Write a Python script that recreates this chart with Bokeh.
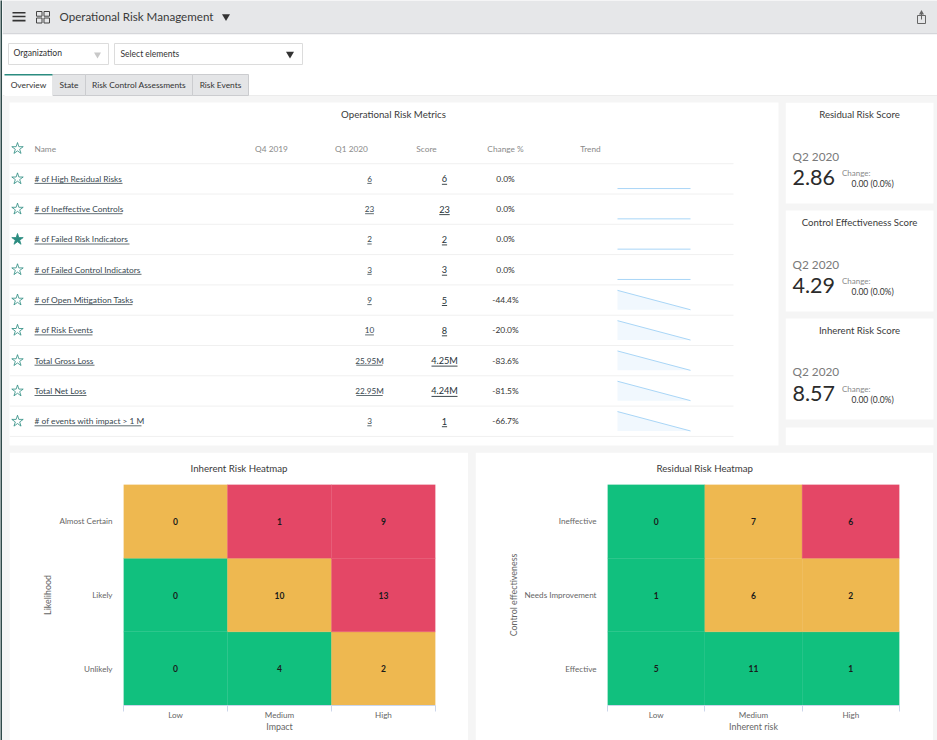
from bokeh.core.properties import value
from bokeh.embed import file_html
from bokeh.layouts import column, row
from bokeh.models import ColumnDataSource, FixedTicker, LinearAxis, Range1d
from bokeh.plotting import figure
from bokeh.resources import INLINE

# ---------- data ----------
metric_names = ["# of High Residual Risks", "# of Ineffective Controls", "# of Failed Risk Indicators",
                "# of Failed Control Indicators", "# of Open Mitigation Tasks", "# of Risk Events",
                "Total Gross Loss", "Total Net Loss", "# of events with impact > 1 M"]
q1_labels = ["6", "23", "2", "3", "9", "10", "25.95M", "22.95M", "3"]
score_labels = ["6", "23", "2", "3", "5", "8", "4.25M", "4.24M", "1"]
change_labels = ["0.0%", "0.0%", "0.0%", "0.0%", "-44.4%", "-20.0%", "-83.6%", "-81.5%", "-66.7%"]
trend_start = [6, 23, 2, 3, 9, 10, 25.95, 22.95, 3]
trend_end = [6, 23, 2, 3, 5, 8, 4.25, 4.24, 1]
favourite = [False, False, True, False, False, False, False, False, False]
column_headers = ["Q4 2019", "Q1 2020", "Score", "Change %", "Trend"]

kpi_titles = ["Residual Risk Score", "Control Effectiveness Score", "Inherent Risk Score"]
kpi_values = ["2.86", "4.29", "8.57"]
kpi_period = "Q2 2020"
kpi_change = "0.00 (0.0%)"

tab_labels = ["Overview", "State", "Risk Control Assessments", "Risk Events"]

impact_levels = ["Low", "Medium", "High"]
likelihood_levels = ["Unlikely", "Likely", "Almost Certain"]
inherent_counts = [[0, 4, 2], [0, 10, 13], [0, 1, 9]]
inherent_risk = [["low", "low", "mid"], ["low", "mid", "high"], ["mid", "high", "high"]]

inherent_levels = ["Low", "Medium", "High"]
control_levels = ["Effective", "Needs Improvement", "Ineffective"]
residual_counts = [[5, 11, 1], [1, 6, 2], [0, 7, 6]]
residual_risk = [["low", "low", "low"], ["low", "mid", "mid"], ["low", "mid", "high"]]

# ---------- styles ----------
FONT = "Lato"
BG = "#f5f5f5"
INK = "#333333"
MUTED = "#8a8a8a"
TEAL = "#2b8c80"
RISK_COLORS = {"low": "#11c07e", "mid": "#eeb850", "high": "#e44766"}
name_underline_px = [88, 88, 95, 107, 98, 58, 60, 52, 107]


def canvas(x0, x1, y0, y1, w, h, **kw):
    p = figure(x_range=Range1d(x0, x1), y_range=Range1d(y1, y0), width=w, height=h,
               output_backend="svg", toolbar_location=None, x_axis_location=None,
               y_axis_location=None, min_border=0, outline_line_color=None, **kw)
    p.grid.visible = False
    return p


def put(p, x, y, s, size=9.5, color=INK, align="left", style="normal", angle=0):
    p.text(x=[x], y=[y], text=[s], text_font=value(FONT), text_font_size=f"{size}px", text_color=color,
           text_align=align, text_baseline="middle", text_font_style=style, angle=angle)


# ---------- left edge strip ----------
strip = canvas(0, 2, 0, 740, 2, 740)
strip.background_fill_color = "#2f4a4a"
strip.border_fill_color = "#2f4a4a"

# ---------- header, filters, tabs ----------
top = canvas(2, 937, 0, 96, 935, 96)
top.quad(left=[2], right=[937], top=[0], bottom=[32.5], fill_color="#e6e7e9", line_color=None)
top.quad(left=[2], right=[937], top=[32.5], bottom=[33.7], fill_color="#d5d6da", line_color=None)
top.quad(left=[12, 12, 12], right=[25, 25, 25], top=[11.5, 15.2, 19.3], bottom=[13.1, 16.8, 20.9],
         fill_color="#333333", line_color=None)
top.quad(left=[36, 43.5, 36, 43.5], right=[41.5, 49, 41.5, 49], top=[11, 11, 17.5, 17.5],
         bottom=[15.7, 15.7, 22.5, 22.5], fill_color=None, line_color="#444444", line_width=1)
put(top, 59, 15.6, "Operational Risk Management", size=11.6, color="#3a3a3a")
top.scatter(x=[225.5], y=[16], marker="inverted_triangle", size=8, fill_color="#333333", line_color=None)
top.quad(left=[917], right=[925], top=[15], bottom=[23], fill_color=None, line_color="#666666", line_width=1)
top.segment(x0=[921], x1=[921], y0=[19], y1=[11.5], line_color="#666666", line_width=1)
top.scatter(x=[921], y=[12.5], marker="triangle", size=5, fill_color="#666666", line_color=None)

top.quad(left=[8, 114], right=[108, 302], top=[43, 43], bottom=[64, 64], fill_color="white",
         line_color="#dcdcdc", line_width=1)
put(top, 13, 52.8, "Organization", size=8.6)
put(top, 120, 53.3, "Select elements", size=8.5)
top.scatter(x=[97], y=[54], marker="inverted_triangle", size=7, fill_color="#c8c8c8", line_color=None)
top.scatter(x=[289.5], y=[53.5], marker="inverted_triangle", size=8, fill_color="#333333", line_color=None)

tab_left = [4, 52, 85, 192]
tab_right = [52, 85, 192, 248]
top.quad(left=[2], right=[937], top=[94.8], bottom=[96], fill_color="#e6e6e6", line_color=None)
top.quad(left=tab_left[1:], right=tab_right[1:], top=[74] * 3, bottom=[95] * 3, fill_color="#e4e5e7",
         line_color="#cbcccf", line_width=1)
top.quad(left=[4], right=[52], top=[74], bottom=[96], fill_color="white", line_color=None)
top.quad(left=[4], right=[52], top=[73.6], bottom=[75], fill_color=TEAL, line_color=None)
for lbl, l, r in zip(tab_labels, tab_left, tab_right):
    put(top, (l + r) / 2, 84.8, lbl, size=8.4, align="center")

# ---------- metrics table ----------
rows = list(range(len(metric_names)))
tbl = canvas(9, 778, -2.52, 8.80, 783, 356)
tbl.min_border_left, tbl.min_border_right, tbl.min_border_top, tbl.min_border_bottom = 7, 7, 6, 7
tbl.background_fill_color = "white"
tbl.border_fill_color = BG
put(tbl, 393, -2.145, "Operational Risk Metrics", size=9.7, align="center", color="#3a3a3a")
sep = [r + 0.5 for r in rows] + [-0.5]
tbl.segment(x0=[9] * len(sep), x1=[733] * len(sep), y0=sep, y1=sep, line_color="#f0f0f0", line_width=1)

put(tbl, 34, -1, "Name", size=8.3, color=MUTED)
for head, cx in zip(column_headers, [271, 351, 426, 505, 590]):
    put(tbl, cx, -1, head, size=8.3, color=MUTED, align="center")

star_rows = [-1] + rows
star_fill = ["white"] + [TEAL if f else "white" for f in favourite]
tbl.scatter(x=[17] * len(star_rows), y=star_rows, marker="star", size=12, fill_color=star_fill,
            line_color=TEAL, line_width=0.8)

tsrc = ColumnDataSource(dict(r=rows, name=metric_names, q1=q1_labels, score=score_labels,
                             change=change_labels, xn=[34] * 9, xq=[369] * 9, xs=[444] * 9, xc=[505] * 9))
common = dict(source=tsrc, y="r", text_font=value(FONT), text_baseline="middle")
tbl.text(x="xn", text="name", text_font_size="8.4px", text_color="#37474f", text_align="left", **common)
tbl.text(x="xq", text="q1", text_font_size="8.2px", text_color="#37474f", text_align="center", **common)
tbl.text(x="xs", text="score", text_font_size="9.2px", text_color="#263238", text_align="center", **common)
tbl.text(x="xc", text="change", text_font_size="8.4px", text_color=INK, text_align="center", **common)

tbl.segment(x0=[34] * 9, x1=[34 + w for w in name_underline_px], y0=[r + 0.15 for r in rows],
            y1=[r + 0.15 for r in rows], line_color="#37474f", line_width=0.8)
q_half = [len(s) * 2.2 for s in q1_labels]
s_half = [len(s) * 2.6 for s in score_labels]
tbl.segment(x0=[369 - h for h in q_half], x1=[369 + h for h in q_half], y0=[r + 0.15 for r in rows],
            y1=[r + 0.15 for r in rows], line_color="#37474f", line_width=0.8)
tbl.segment(x0=[444 - h for h in s_half], x1=[444 + h for h in s_half], y0=[r + 0.18 for r in rows],
            y1=[r + 0.18 for r in rows], line_color="#263238", line_width=0.9)

# sparklines from each metric's two reported values
SPARK_L, SPARK_R, BAND = 617, 690, 0.32
for r, a, b in zip(rows, trend_start, trend_end):
    hi = max(a, b)
    lo = min(a, b)
    span = (hi - lo) or 1
    ya = r + BAND - 2 * BAND * (a - lo) / span
    yb = r + BAND - 2 * BAND * (b - lo) / span
    if a != b:
        tbl.patch(x=[SPARK_L, SPARK_R, SPARK_L], y=[ya, yb, r + BAND], fill_color="#f1f8fe", line_color=None)
    tbl.line(x=[SPARK_L, SPARK_R], y=[ya, yb], line_color="#a9d6f7", line_width=1)

# ---------- KPI cards ----------
kpi = canvas(785, 937, 102, 445, 152, 356)
kpi.min_border_top, kpi.min_border_bottom = 6, 7
kpi.background_fill_color = BG
kpi.border_fill_color = BG
card_top = [102, 210, 318, 427]
card_bottom = [203, 311, 419, 445]
kpi.quad(left=[785] * 4, right=[933] * 4, top=card_top, bottom=card_bottom, fill_color="white", line_color=None)
for t, title, val, dy in zip(card_top, kpi_titles, kpi_values, [0, 0, -0.5]):
    put(kpi, 859, t + 12, title, size=9.6, align="center", color="#3a3a3a")
    put(kpi, 792, t + 53.5 + dy, kpi_period, size=11.8, color="#7a7a7a")
    put(kpi, 792, t + 75 + dy, val, size=21.5, color="#2b2b2b")
    put(kpi, 841.5, t + 70.5 + dy, "Change:", size=8, color=MUTED)
    put(kpi, 851, t + 81.5 + dy, kpi_change, size=8.5, color=INK)


# ---------- heatmaps ----------
def heatmap(title, xf, yf, counts, risk, xlabel, ylabel, width, left, right, title_offset, margin, ylab_gap):
    xs, ys, vals, cols = [], [], [], []
    for j in range(len(yf)):
        for i in range(len(xf)):
            xs.append(i + 0.5)
            ys.append(j + 0.5)
            vals.append(str(counts[j][i]))
            cols.append(RISK_COLORS[risk[j][i]])
    src = ColumnDataSource(dict(x=xs, y=ys, v=vals, c=cols))
    p = figure(x_range=Range1d(0, len(xf)), y_range=Range1d(0, len(yf)),
               width=width, height=288, frame_width=width - left - right, frame_height=221,
               output_backend="svg", toolbar_location=None, x_axis_location=None, y_axis_location=None,
               min_border_left=left, min_border_right=right, min_border_top=32, min_border_bottom=35,
               outline_line_color=None, margin=margin, border_fill_color="white")
    p.grid.visible = False
    p.rect(x="x", y="y", width=1, height=1, fill_color="c", line_color="c", line_width=0.3, source=src)
    p.text(x="x", y="y", text="v", source=src, text_font=value(FONT), text_font_size="8.5px",
           text_font_style="bold", text_color="#1a1a1a", text_align="center", text_baseline="middle")
    p.title.text = title
    p.title.align = "left"
    p.title.offset = title_offset
    p.title.vertical_align = "top"
    p.title.text_font = FONT
    p.title.text_font_size = "9.7px"
    p.title.text_font_style = "normal"
    p.title.text_color = "#3a3a3a"
    p.title.standoff = 17

    xa = LinearAxis(ticker=FixedTicker(ticks=[i + 0.5 for i in range(len(xf))],
                                       minor_ticks=list(range(len(xf) + 1))),
                    major_label_overrides={i + 0.5: s for i, s in enumerate(xf)},
                    axis_label=xlabel, major_label_standoff=-2, axis_label_standoff=-2,
                    major_tick_line_color=None, major_tick_in=0, major_tick_out=0,
                    minor_tick_out=6, minor_tick_in=0, minor_tick_line_color="#ccd6eb",
                    axis_line_color="#ccd6eb")
    ya = LinearAxis(ticker=FixedTicker(ticks=[i + 0.5 for i in range(len(yf))]),
                    major_label_overrides={i + 0.5: s for i, s in enumerate(yf)},
                    axis_label=ylabel, major_label_standoff=11, axis_label_standoff=ylab_gap,
                    major_tick_line_color=None, major_tick_in=0, major_tick_out=0,
                    minor_tick_line_color=None, axis_line_color=None)
    for a in (xa, ya):
        a.major_label_text_font = FONT
        a.major_label_text_font_size = "8.1px"
        a.major_label_text_color = "#666666"
        a.axis_label_text_font = FONT
        a.axis_label_text_font_size = "8.9px"
        a.axis_label_text_font_style = "normal"
        a.axis_label_text_color = "#666666"
    p.add_layout(xa, "below")
    p.add_layout(ya, "left")
    return p


heat1 = heatmap("Inherent Risk Heatmap", impact_levels, likelihood_levels, inherent_counts, inherent_risk,
                "Impact", "Likelihood", 459, 114, 33, 67, (0, 7, 0, 7), 3)
heat2 = heatmap("Residual Risk Heatmap", inherent_levels, control_levels, residual_counts, residual_risk,
                "Inherent risk", "Control effectiveness", 458, 132, 34, 49, (0, 0, 0, 0), 3)

body = column(top, row(tbl, kpi, spacing=0), row(heat1, heat2, spacing=0), spacing=0, width=935,
              styles={"background-color": BG})
page = row(strip, body, spacing=0)

open("out.html", "w").write(file_html(page, INLINE))
